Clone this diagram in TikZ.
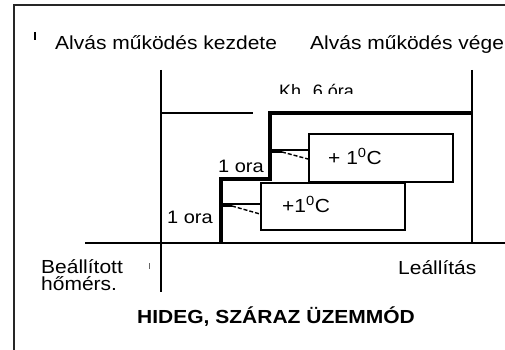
\documentclass[tikz,border=0pt]{standalone}
\usepackage{fontspec}
\usepackage{graphicx}
\setmainfont{Liberation Sans}
\newcommand{\vsq}[1]{\scalebox{1}[0.9]{#1}}
\begin{document}
\begin{tikzpicture}[x=1pt,y=-1pt,
  txt/.style={inner sep=0pt,anchor=base west,font=\fontsize{21}{24}\selectfont},
  smalltxt/.style={inner sep=0pt,anchor=base west,font=\fontsize{18}{21}\selectfont},
  thin/.style={line width=1.6pt},
  thick/.style={line width=4pt},
  tempbox/.style={draw,line width=1.6pt,inner sep=0pt,anchor=north west,minimum width=144pt,minimum height=48pt},
  slope/.style={line width=1.4pt,dash pattern=on 4pt off 2pt}]
\useasboundingbox (0,0) rectangle (505,350);
% frame
\draw[line width=2.2pt,black!85] (14,350) -- (14,5) -- (505,5);
\draw[line width=1.3pt] (35,32) -- (35,40);
% top labels
\node[txt] (start) at (55,50) {\vsq{Alvás működés kezdete}};
\node[txt] (end) at (310,50) {\vsq{Alvás működés vége}};
\begin{scope}
\clip (260,70) rectangle (370,93.5);
\node[smalltxt] (kh) at (279,97) {Kh. 6 óra};
\end{scope}
% axes
\coordinate (vl1) at (161,70);
\coordinate (vl2) at (161,292);
\coordinate (vr1) at (472,70);
\coordinate (vr2) at (472,243);
\coordinate (ax1) at (85,243);
\coordinate (ax2) at (505,243);
\draw[thin] (vl1) -- (vl2);
\draw[thin] (vr1) -- (vr2);
\draw[thin] (ax1) -- (ax2);
\coordinate (h1) at (161,113);
\coordinate (h2) at (253,113);
\draw[thin] (h1) -- (h2);
% boxes
\node[tempbox,minimum height=47pt] (box1) at (260,182) {};
\node[tempbox] (box2) at (308,133) {};
\node[txt] (t1) at (282,212) {\vsq{+1\textsuperscript{0}C}};
\node[txt] (t2) at (328,164) {\vsq{+ 1\textsuperscript{0}C}};
% step line
\coordinate (s0) at (221,243);
\coordinate (s1) at (221,179);
\coordinate (s2) at (270,179);
\coordinate (s3) at (270,113);
\coordinate (s4) at (472,113);
\draw[thick] (s0) -- (s1) -- (s2) -- (s3) -- (s4);
% ticks
\draw[thin] (221,204) -- (box1.west |- 0,204);
\draw[line width=2.5pt] (222,205.5) -- (232,205.5);
\draw[slope] (232,206) -- (box1.west |- 0,214);
\draw[thin] (270,150) -- (box2.west |- 0,150);
\draw[line width=2.5pt] (271,151.5) -- (282,151.5);
\draw[slope] (282,152) -- (box2.west |- 0,159);
% hour labels
\node[txt,font=\fontsize{20}{24}\selectfont] (o1) at (218,172) {\vsq{1 ora}};
\node[txt,font=\fontsize{20}{24}\selectfont] (o2) at (167,223) {\vsq{1 ora}};
% bottom labels
\node[txt] (b1) at (41,273) {\vsq{Beállított}};
\node[txt] (b2) at (41,290.5) {\vsq{hőmérs.}};
\draw[line width=1pt,black!60] (149,263) -- (149,269);
\node[txt] (b3) at (398,274) {\vsq{Leállítás}};
\node[txt,font=\fontsize{21}{24}\selectfont\bfseries] (title) at (137,323) {\vsq{HIDEG, SZÁRAZ ÜZEMMÓD}};
\end{tikzpicture}
\end{document}
